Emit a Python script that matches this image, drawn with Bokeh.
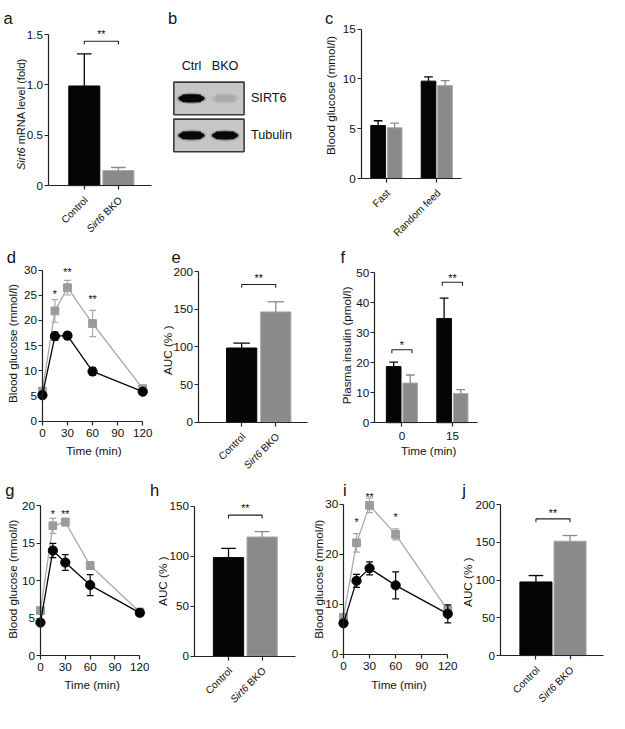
import math
from bokeh.plotting import figure
from bokeh.layouts import row, column
from bokeh.models import Range1d, FixedTicker
from bokeh.core.properties import value
from bokeh.embed import file_html
from bokeh.resources import INLINE

FONT = "Liberation Sans"
K = 609.0 / 625.0
INK = "#111111"
AXIS = "#222222"
BAR_BLACK = "#050505"
BAR_GRAY = "#8a8a8a"
BAR_GRAY_EDGE = "#a8a8a8"
ERR_GRAY = "#8a8a8a"
LINE_GRAY = "#a9a9a9"
MARK_GRAY = "#9b9b9b"

# ------------------------------------------------------------------ data
# a
a_groups = ["Control", "Sirt6 BKO"]
a_mean = [0.99, 0.15]
a_sem = [0.32, 0.03]
a_yticks = [0, 0.5, 1.0, 1.5]
a_ylabels = ["0", "0.5", "1.0", "1.5"]
a_bracket = 1.435
a_star_y = 1.53

# b (western blot)
blot_lanes = ["Ctrl", "BKO"]
blot_proteins = ["SIRT6", "Tubulin"]
blot_sirt6 = [1.0, 0.07]
blot_tubulin = [1.0, 1.0]

# c
c_groups = ["Fast", "Random feed"]
c_ctrl = [5.32, 9.78]
c_ctrl_sem = [0.48, 0.42]
c_bko = [5.10, 9.33]
c_bko_sem = [0.47, 0.50]
c_yticks = [0, 5, 10, 15]

# time course
time_min = [0, 15, 30, 60, 120]
time_ticks = [0, 30, 60, 90, 120]

# d
d_ctrl = [5.2, 16.9, 17.0, 9.9, 5.9]
d_ctrl_sem = [0.3, 0.8, 0.7, 0.75, 0.35]
d_bko = [6.0, 21.9, 26.5, 19.4, 6.5]
d_bko_sem = [0.4, 2.25, 1.45, 2.6, 0.4]
d_star_t = [15, 30, 60]
d_star_y = [25.8, 30.1, 24.8]
d_star = ["*", "**", "**"]
d_yticks = [0, 5, 10, 15, 20, 25, 30]

# e
e_groups = ["Control", "Sirt6 BKO"]
e_mean = [98.5, 146.5]
e_sem = [6.5, 13.5]
e_bracket = 183
e_star_y = 195
e_yticks = [0, 50, 100, 150, 200]

# f
f_times = ["0", "15"]
f_ctrl = [18.7, 34.7]
f_ctrl_sem = [1.5, 6.8]
f_bko = [13.2, 9.7]
f_bko_sem = [2.7, 1.3]
f_bracket = [24.3, 46.8]
f_star_y = [26.6, 49.0]
f_star = ["*", "**"]
f_yticks = [0, 10, 20, 30, 40, 50]

# g
g_ctrl = [4.4, 14.0, 12.4, 9.4, 5.7]
g_ctrl_sem = [0.3, 0.95, 1.05, 1.4, 0.45]
g_bko = [6.0, 17.3, 17.8, 12.0, 5.8]
g_bko_sem = [0.3, 1.0, 0.5, 0.5, 0.3]
g_star_t = [15, 30]
g_star_y = [19.2, 19.2]
g_star = ["*", "**"]
g_yticks = [0, 5, 10, 15, 20]

# h
h_groups = ["Control", "Sirt6 BKO"]
h_mean = [98.6, 119.2]
h_sem = [9.2, 5.4]
h_bracket = 141
h_star_y = 151
h_yticks = [0, 50, 100, 150]

# i
i_ctrl = [6.2, 14.7, 17.2, 13.8, 8.1]
i_ctrl_sem = [0.5, 1.3, 1.3, 2.7, 1.8]
i_bko = [7.4, 22.3, 29.8, 24.0, 8.8]
i_bko_sem = [0.5, 1.85, 1.45, 1.1, 1.0]
i_star_t = [15, 30, 60]
i_star_y = [27.0, 32.0, 27.9]
i_star = ["*", "**", "*"]
i_yticks = [0, 10, 20, 30]

# j
j_groups = ["Control", "Sirt6 BKO"]
j_mean = [97.5, 151.5]
j_sem = [8.5, 7.5]
j_bracket = 181
j_star_y = 192.6
j_yticks = [0, 50, 100, 150, 200]

# ------------------------------------------------------------------ helpers
CW = {"B": 0.667, "K": 0.667, "O": 0.778, " ": 0.278, "S": 0.667, "i": 0.222,
      "r": 0.333, "t": 0.278, "6": 0.556}


def tw(s):
    return sum(CW.get(ch, 0.556) for ch in s)


def px(v):
    return int(round(v * K))


def fs(v):
    return f"{v * K:.2f}px"


def labels_of(ticks):
    return [str(t) for t in ticks]


class Panel:
    """One figure; its frame fills the whole canvas, axes are drawn inside it."""

    def __init__(self, box, xmap, ymap):
        self.xmap, self.ymap = xmap, ymap
        X0, Y0, X1, Y1 = box
        L, R, T, B = px(X0) / K, px(X1) / K, px(Y0) / K, px(Y1) / K
        p = figure(width=px(X1) - px(X0), height=px(Y1) - px(Y0),
                   x_range=Range1d(self.dx(L), self.dx(R)),
                   y_range=Range1d(self.dy(B), self.dy(T)),
                   x_axis_location="above", y_axis_location="right", title=None,
                   output_backend="svg", toolbar_location=None,
                   min_border_left=0, min_border_right=0, min_border_top=0, min_border_bottom=0)
        p.outline_line_color = None
        p.grid.visible = False
        p.background_fill_color = "white"
        p.border_fill_color = "white"
        self.p = p

    def dx(self, X):
        xa, Xa, pp = self.xmap
        return xa + (X - Xa) / pp

    def dy(self, Y):
        ya, Ya, pp = self.ymap
        return ya + (Ya - Y) / pp

    def rx(self, x):
        xa, Xa, pp = self.xmap
        return Xa + (x - xa) * pp

    def ry(self, y):
        ya, Ya, pp = self.ymap
        return Ya - (y - ya) * pp

    def ypx(self, n):
        return n / self.ymap[2]

    def text(self, xs, ys, texts, size, align="center", baseline="middle", angle=0.0, style="normal"):
        self.p.text(x=list(xs), y=list(ys), text=list(texts), text_font=value(FONT),
                    text_font_size=value(fs(size)), text_align=align, text_baseline=baseline,
                    angle=angle, text_font_style=value(style), text_color=INK)

    def rtext(self, X, Y, t, size, align="center", baseline="middle", angle=0.0, style="normal"):
        self.text([self.dx(X)], [self.dy(Y)], [t], size, align, baseline, angle, style)

    def axes(self, yaxisX, ybounds, yticks, ylabels, xbounds, xticks, xlabels=None, xlab_off=12.5):
        p = self.p
        for ax in p.axis:
            ax.axis_line_color = AXIS
            ax.axis_line_width = 1.2
            ax.major_tick_line_color = AXIS
            ax.major_tick_line_width = 1.2
            ax.major_tick_out = 0
            ax.major_tick_in = 4
            ax.minor_tick_line_color = None
            ax.minor_tick_out = 0
            ax.minor_tick_in = 0
            ax.major_label_text_font_size = "0px"
            ax.major_label_standoff = 0
        p.yaxis.fixed_location = self.dx(yaxisX)
        p.xaxis.fixed_location = 0
        p.yaxis.bounds = ybounds
        p.xaxis.bounds = xbounds
        p.yaxis.ticker = FixedTicker(ticks=list(yticks))
        p.xaxis.ticker = FixedTicker(ticks=list(xticks))
        p.yaxis.major_label_overrides = {t: "" for t in yticks}
        p.xaxis.major_label_overrides = {t: "" for t in xticks}
        self.text([self.dx(yaxisX - 5.5)] * len(yticks), yticks, ylabels, 12, "right", "middle")
        if xlabels:
            yl = self.dy(self.ry(0) + xlab_off)
            self.text(xticks, [yl] * len(xticks), xlabels, 12, "center", "middle")


def up_err(p, xs, tops, sems, colors, cap):
    his = [t + s for t, s in zip(tops, sems)]
    p.segment(x0=xs, y0=tops, x1=xs, y1=his, line_color=colors, line_width=1.3)
    p.scatter(x=xs, y=his, marker="dash", size=cap * K, line_color=colors, line_width=1.3)


def bracket(P, x1, x2, y):
    d = P.ypx(3.5)
    P.p.multi_line(xs=[[x1, x1, x2, x2]], ys=[[y - d, y, y, y - d]], line_color=AXIS, line_width=1.1)


def stars(P, xs, ys, txt):
    P.text(xs, [y - P.ypx(2.5) for y in ys], txt, 11, "center", "middle")


def cat_labels(P, xs, labels, axisY, size=10.5):
    ang = math.pi / 4
    for x, lab in zip(xs, labels):
        AX, AY = P.rx(x) + 2, axisY + 13
        if lab.startswith("Sirt6 "):
            rest = lab[len("Sirt6 "):]
            P.rtext(AX, AY, rest, size, "right", "middle", ang)
            w = (tw(rest) + tw(" ")) * size
            P.rtext(AX - w * 0.7071, AY + w * 0.7071, "Sirt6", size, "right", "middle", ang, "italic")
        else:
            P.rtext(AX, AY, lab, size, "right", "middle", ang)


def letter(P, X, Y, t):
    P.rtext(X, Y, t, 17, "left", "alphabetic")


# ------------------------------------------------------------------ single-bar panels
def single_bar(box, xmap, ymap, axisX, xend, ybound, yticks, ylabels, groups, mean, sem, bw, cap,
               br, sy, ylab, ylabXY, let, letXY):
    P = Panel(box, xmap, ymap)
    xs = [i + 1 for i in range(len(groups))]
    P.axes(axisX, (0, ybound), yticks, ylabels, (P.dx(axisX), P.dx(xend)), xs)
    p = P.p
    p.vbar(x=xs, top=mean, width=bw, bottom=0, fill_color=[BAR_BLACK, BAR_GRAY],
           line_color=[BAR_BLACK, BAR_GRAY_EDGE], line_width=1)
    up_err(p, xs, mean, sem, [BAR_BLACK, ERR_GRAY], cap)
    bracket(P, xs[0], xs[1], br)
    stars(P, [(xs[0] + xs[1]) / 2], [sy], ["**"])
    cat_labels(P, xs, groups, P.ry(0))
    if ylab:
        P.rtext(ylabXY[0], ylabXY[1], ylab, 12, "center", "middle", math.pi / 2)
    letter(P, letXY[0], letXY[1], let)
    return P


Pa = single_bar((0, 0, 160, 246), (1, 86, 35), (0, 190, 103.3), 49, 155, 1.5, a_yticks, a_ylabels,
                a_groups, a_mean, a_sem, 0.91, 15, a_bracket, a_star_y, None, None, "a", (3, 18.3))
Pa.rtext(21.5, 174, "Sirt6", 11.3, "left", "middle", math.pi / 2, "italic")
Pa.rtext(21.5, 174 - (tw("Sirt6") + tw(" ")) * 11.3, "mRNA level (fold)", 11.3, "left", "middle", math.pi / 2)

Pe = single_bar((160, 246, 340, 483), (1, 247.5, 35), (0, 432.7, 0.772), 203, 315, 200, e_yticks,
                labels_of(e_yticks), e_groups, e_mean, e_sem, 0.886, 17, e_bracket, e_star_y,
                "AUC (% )", (171, 359), "e", (175.5, 263.3))

Ph = single_bar((153, 483, 310, 729), (1, 234, 34.5), (0, 673, 1.027), 199, 303, 150, h_yticks,
                labels_of(h_yticks), h_groups, h_mean, h_sem, 0.9, 15, h_bracket, h_star_y,
                "AUC (% )", (166.5, 596), "h", (153.3, 503))

Pj = single_bar((470, 483, 625, 729), (1, 549.5, 35), (0, 672.3, 0.775), 513, 619, 200, j_yticks,
                labels_of(j_yticks), j_groups, j_mean, j_sem, 0.94, 15, j_bracket, j_star_y,
                "AUC (% )", (479, 597), "j", (474, 503))

# ------------------------------------------------------------------ b: western blot
Pb = Panel((160, 0, 320, 246), (1, 196, 34.5), (1, 138.5, 38))
pb = Pb.p
pb.axis.visible = False
lane_x = [i + 1 for i in range(len(blot_lanes))]
prot_y = [len(blot_proteins) - i for i in range(len(blot_proteins))]
box_x = sum(lane_x) / len(lane_x) + 0.02
pb.rect(x=[box_x] * len(prot_y), y=prot_y, width=2.09, height=0.88, fill_color="#c6c6c6",
        line_color="#3a3a3a", line_width=1.6)
band_x, band_y, band_a = [], [], []
for yy, vals in zip(prot_y, (blot_sirt6, blot_tubulin)):
    for xx, v in zip(lane_x, vals):
        band_x.append(xx)
        band_y.append(yy)
        band_a.append(v)
pb.ellipse(x=band_x, y=band_y, width=0.88, height=0.32, fill_color="#202020",
           fill_alpha=[v * 0.22 for v in band_a], line_color=None)
pb.ellipse(x=band_x, y=band_y, width=0.78, height=0.22, fill_color="#080808",
           fill_alpha=band_a, line_color=None)
pb.rect(x=band_x, y=band_y, width=0.56, height=0.21, fill_color="#080808",
        fill_alpha=band_a, line_color=None)
Pb.text(lane_x, [Pb.dy(67)] * len(lane_x), blot_lanes, 13, "center", "middle")
Pb.text([Pb.dx(257)] * len(prot_y), prot_y, blot_proteins, 13, "left", "middle")
letter(Pb, 172, 18.3, "b")

# ------------------------------------------------------------------ c: grouped bars
Pc = Panel((320, 0, 625, 246), (1, 396, 51.75), (0, 182.7, 10.22))
cx = [i + 1 for i in range(len(c_groups))]
Pc.axes(370, (0, 15), c_yticks, labels_of(c_yticks), (Pc.dx(370), Pc.dx(473)), cx)
pc = Pc.p
off = 0.164
cxa = [x - off for x in cx]
cxb = [x + off for x in cx]
pc.vbar(x=cxa, top=c_ctrl, width=0.29, fill_color=BAR_BLACK, line_color=BAR_BLACK, line_width=1)
pc.vbar(x=cxb, top=c_bko, width=0.29, fill_color=BAR_GRAY, line_color=BAR_GRAY_EDGE, line_width=1)
up_err(pc, cxa, c_ctrl, c_ctrl_sem, BAR_BLACK, 9)
up_err(pc, cxb, c_bko, c_bko_sem, ERR_GRAY, 9)
cat_labels(Pc, cx, c_groups, Pc.ry(0))
Pc.rtext(339, 97.5, "Blood glucose (mmol/l)", 12, "center", "middle", math.pi / 2)
letter(Pc, 333, 18.3, "c")

# ------------------------------------------------------------------ f: grouped bars (insulin)
Pf = Panel((340, 246, 625, 483), (1, 412, 51.75), (0, 433.3, 3.08))
fx = [i + 1 for i in range(len(f_times))]
Pf.axes(384, (0, 50), f_yticks, labels_of(f_yticks), (Pf.dx(384), Pf.dx(490)), fx, f_times, 14)
pf = Pf.p
fxa = [x - off for x in fx]
fxb = [x + off for x in fx]
pf.vbar(x=fxa, top=f_ctrl, width=0.29, fill_color=BAR_BLACK, line_color=BAR_BLACK, line_width=1)
pf.vbar(x=fxb, top=f_bko, width=0.29, fill_color=BAR_GRAY, line_color=BAR_GRAY_EDGE, line_width=1)
up_err(pf, fxa, f_ctrl, f_ctrl_sem, BAR_BLACK, 9)
up_err(pf, fxb, f_bko, f_bko_sem, ERR_GRAY, 9)
for x, b in zip(fx, f_bracket):
    bracket(Pf, x - 0.2, x + 0.2, b)
stars(Pf, fx, f_star_y, f_star)
Pf.rtext(355, 354, "Plasma insulin (pmol/l)", 12, "center", "middle", math.pi / 2)
Pf.rtext(439.5, 462, "Time (min)", 12, "center", "middle")
letter(Pf, 349, 263.3, "f")


# ------------------------------------------------------------------ line panels
def line_panel(box, xmap, ymap, ybound, yticks, ctrl, ctrl_sem, bko, bko_sem, st, sy, stxt,
               ylabXY, xlabXY, let, letXY):
    P = Panel(box, xmap, ymap)
    P.axes(P.rx(0), (0, ybound), yticks, labels_of(yticks), (0, 120), time_ticks,
           labels_of(time_ticks), 12)
    p = P.p
    # Sirt6 BKO (grey squares)
    lo = [m - s for m, s in zip(bko, bko_sem)]
    hi = [m + s for m, s in zip(bko, bko_sem)]
    p.segment(x0=time_min, y0=lo, x1=time_min, y1=hi, line_color=LINE_GRAY, line_width=1.2)
    p.scatter(x=time_min + time_min, y=lo + hi, marker="dash", size=7 * K, line_color=LINE_GRAY, line_width=1.2)
    p.line(x=time_min, y=bko, line_color=LINE_GRAY, line_width=1.3)
    p.scatter(x=time_min, y=bko, marker="square", size=8 * K, fill_color=MARK_GRAY, line_color=MARK_GRAY)
    # Control (black circles)
    lo = [m - s for m, s in zip(ctrl, ctrl_sem)]
    hi = [m + s for m, s in zip(ctrl, ctrl_sem)]
    p.segment(x0=time_min, y0=lo, x1=time_min, y1=hi, line_color=BAR_BLACK, line_width=1.2)
    p.scatter(x=time_min + time_min, y=lo + hi, marker="dash", size=7 * K, line_color=BAR_BLACK, line_width=1.2)
    p.line(x=time_min, y=ctrl, line_color=BAR_BLACK, line_width=1.3)
    p.scatter(x=time_min, y=ctrl, marker="circle", size=9.5 * K, fill_color=BAR_BLACK, line_color=BAR_BLACK)
    stars(P, st, sy, stxt)
    P.rtext(ylabXY[0], ylabXY[1], "Blood glucose (mmol/l)", 12, "center", "middle", math.pi / 2)
    P.rtext(xlabXY[0], xlabXY[1], "Time (min)", 12, "center", "middle")
    letter(P, letXY[0], letXY[1], let)
    return P


Pd = line_panel((0, 246, 160, 483), (0, 43, 0.858), (0, 432, 5.18), 30, d_yticks,
                d_ctrl, d_ctrl_sem, d_bko, d_bko_sem, d_star_t, d_star_y, d_star,
                (12.5, 352), (95.8, 462), "d", (6.5, 263.3))
Pg = line_panel((0, 483, 153, 729), (0, 41, 0.85), (0, 672.3, 7.7), 20, g_yticks,
                g_ctrl, g_ctrl_sem, g_bko, g_bko_sem, g_star_t, g_star_y, g_star,
                (12, 594), (94, 702), "g", (5, 503))
Pi = line_panel((310, 483, 470, 729), (0, 352, 0.892), (0, 671, 5.13), 30, i_yticks,
                i_ctrl, i_ctrl_sem, i_bko, i_bko_sem, i_star_t, i_star_y, i_star,
                (326.7, 594), (409, 702), "i", (351.5, 503))

layout = column(row(Pa.p, Pb.p, Pc.p), row(Pd.p, Pe.p, Pf.p), row(Pg.p, Ph.p, Pi.p, Pj.p))
open("out.html", "w").write(file_html(layout, INLINE))
